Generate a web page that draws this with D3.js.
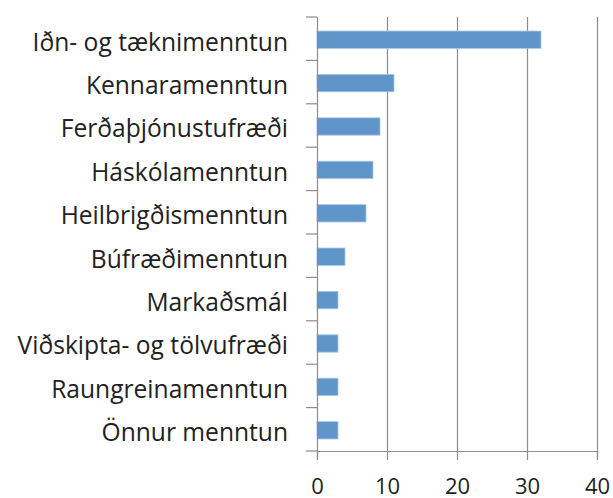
<!DOCTYPE html>
<html>
<head>
<meta charset="utf-8">
<script src="https://cdn.jsdelivr.net/npm/d3@7"></script>
<style>
  body { margin: 0; background: #fff; }
  text { font-family: "Open Sans", sans-serif; fill: #222; }
</style>
</head>
<body>
<div id="chart"></div>
<script>
// categories, top to bottom
var categories = [
  "Iðn- og tæknimenntun",
  "Kennaramenntun",
  "Ferðaþjónustufræði",
  "Háskólamenntun",
  "Heilbrigðismenntun",
  "Búfræðimenntun",
  "Markaðsmál",
  "Viðskipta- og tölvufræði",
  "Raungreinamenntun",
  "Önnur menntun"
];
var values = [32, 11, 9, 8, 7, 4, 3, 3, 3, 3];
var xTicks = [0, 10, 20, 30, 40];

var width = 613, height = 498;
var plotLeft = 317, plotRight = 597, plotTop = 17, plotBottom = 451;

var svg = d3.select("#chart").append("svg")
  .attr("width", width)
  .attr("height", height);

var x = d3.scaleLinear().domain([0, 40]).range([plotLeft, plotRight]);
var y = d3.scaleBand().domain(categories).range([plotTop, plotBottom]).paddingInner(0.6).paddingOuter(0.3);

// gridlines
svg.append("g").selectAll("line")
  .data(xTicks.slice(1))
  .enter().append("line")
  .attr("x1", d => Math.round(x(d)) + 0.5)
  .attr("x2", d => Math.round(x(d)) + 0.5)
  .attr("y1", plotTop)
  .attr("y2", plotBottom)
  .attr("stroke", "#8c8c8c")
  .attr("stroke-width", 1.2);

// bars
svg.append("g").selectAll("rect")
  .data(values)
  .enter().append("rect")
  .attr("x", x(0))
  .attr("y", (d, i) => y(categories[i]) + 1)
  .attr("width", d => x(d) - x(0))
  .attr("height", y.bandwidth())
  .attr("fill", "#5f95c9")
  .attr("stroke", "#a9c6e4")
  .attr("stroke-width", 0.8);

// y axis (category ticks at band edges)
var edges = d3.range(categories.length + 1).map(i => plotTop + i * (plotBottom - plotTop) / categories.length);
var yAxis = svg.append("g");
yAxis.append("line")
  .attr("x1", plotLeft + 0.5).attr("x2", plotLeft + 0.5)
  .attr("y1", plotTop).attr("y2", plotBottom)
  .attr("stroke", "#8c8c8c").attr("stroke-width", 1.2);
yAxis.selectAll(".tk").data(edges).enter().append("line")
  .attr("x1", plotLeft - 11).attr("x2", plotLeft)
  .attr("y1", d => d).attr("y2", d => d)
  .attr("stroke", "#8c8c8c").attr("stroke-width", 1.2);
yAxis.selectAll("text").data(categories).enter().append("text")
  .attr("x", 288)
  .attr("y", d => y(d) + y.bandwidth() / 2 + 3)
  .attr("dy", "0.36em")
  .attr("text-anchor", "end")
  .style("font-size", "24.6px")
  .text(d => d);

// x axis
var xAxis = svg.append("g").attr("transform", "translate(0," + plotBottom + ")")
  .call(d3.axisBottom(x).tickValues(xTicks).tickSize(9).tickFormat(d3.format("d")));
xAxis.select(".domain").attr("stroke", "#8c8c8c").attr("stroke-width", 1.2);
xAxis.selectAll(".tick line").attr("stroke", "#8c8c8c").attr("stroke-width", 1.2);
xAxis.selectAll("text")
  .attr("y", 494 - plotBottom)
  .attr("dy", 0)
  .style("font-size", "22px")
  .style("font-family", "'Open Sans', sans-serif")
  .attr("fill", "#222");
</script>
</body>
</html>
